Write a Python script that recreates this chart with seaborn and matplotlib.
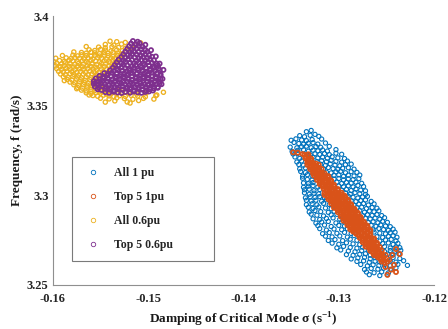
import matplotlib
matplotlib.use("Agg")
import matplotlib.pyplot as plt
from matplotlib.lines import Line2D
import pandas as pd
import seaborn as sns

# ---------------------------------------------------------------------------
# Critical-mode eigenvalue samples: (damping sigma [1/s], frequency f [rad/s])
# ---------------------------------------------------------------------------
series_names = ["All 1 pu", "Top 5 1pu", "All 0.6pu", "Top 5 0.6pu"]
series_colors = ["#0072BD", "#D95319", "#EDB120", "#7E2F8E"]

all_1pu = [
    (-.1334, 3.3355), (-.1325, 3.3340), (-.1329, 3.3362),
    (-.1341, 3.3333), (-.1336, 3.3327), (-.1330, 3.3335), (-.1321, 3.3329),
    (-.1350, 3.3307), (-.1345, 3.3315), (-.1339, 3.3309), (-.1334, 3.3305), (-.1328, 3.3311), (-.1318, 3.3314),
    (-.1347, 3.3295), (-.1342, 3.3289), (-.1337, 3.3285), (-.1332, 3.3291), (-.1327, 3.3294), (-.1322, 3.3286), (-.1314, 3.3292),
    (-.1351, 3.3269), (-.1344, 3.3265), (-.1339, 3.3271), (-.1334, 3.3274), (-.1329, 3.3266), (-.1324, 3.3272), (-.1319, 3.3268), (-.1310, 3.3273),
    (-.1349, 3.3245), (-.1343, 3.3251), (-.1337, 3.3254), (-.1332, 3.3246), (-.1327, 3.3252), (-.1322, 3.3248), (-.1317, 3.3253), (-.1312, 3.3247), (-.1303, 3.3255),
    (-.1348, 3.3231), (-.1343, 3.3234), (-.1330, 3.3226), (-.1325, 3.3232), (-.1320, 3.3228), (-.1315, 3.3233), (-.1310, 3.3227), (-.1303, 3.3235), (-.1297, 3.3229),
    (-.1346, 3.3214), (-.1341, 3.3206), (-.1327, 3.3212), (-.1322, 3.3208), (-.1317, 3.3213), (-.1312, 3.3207), (-.1307, 3.3215), (-.1301, 3.3209), (-.1294, 3.3205),
    (-.1344, 3.3186), (-.1339, 3.3192), (-.1323, 3.3188), (-.1318, 3.3193), (-.1313, 3.3187), (-.1308, 3.3195), (-.1303, 3.3189), (-.1297, 3.3185), (-.1291, 3.3191),
    (-.1342, 3.3172), (-.1337, 3.3168), (-.1319, 3.3173), (-.1314, 3.3167), (-.1309, 3.3175), (-.1304, 3.3169), (-.1299, 3.3165), (-.1293, 3.3171), (-.1287, 3.3174),
    (-.1341, 3.3148), (-.1335, 3.3153), (-.1316, 3.3147), (-.1311, 3.3155), (-.1306, 3.3149), (-.1301, 3.3145), (-.1296, 3.3151), (-.1290, 3.3154), (-.1284, 3.3146),
    (-.1340, 3.3133), (-.1335, 3.3127), (-.1330, 3.3135), (-.1313, 3.3129), (-.1308, 3.3125), (-.1303, 3.3131), (-.1298, 3.3134), (-.1293, 3.3126), (-.1287, 3.3132), (-.1281, 3.3128),
    (-.1338, 3.3107), (-.1333, 3.3115), (-.1328, 3.3109), (-.1310, 3.3105), (-.1305, 3.3111), (-.1300, 3.3114), (-.1295, 3.3106), (-.1290, 3.3112), (-.1284, 3.3108), (-.1278, 3.3113),
    (-.1338, 3.3095), (-.1333, 3.3089), (-.1328, 3.3085), (-.1305, 3.3091), (-.1300, 3.3094), (-.1295, 3.3086), (-.1290, 3.3092), (-.1285, 3.3088), (-.1279, 3.3093),
    (-.1337, 3.3069), (-.1332, 3.3065), (-.1327, 3.3071), (-.1302, 3.3074), (-.1297, 3.3066), (-.1292, 3.3072), (-.1287, 3.3068), (-.1282, 3.3073), (-.1276, 3.3067),
    (-.1337, 3.3045), (-.1332, 3.3051), (-.1327, 3.3054), (-.1322, 3.3046), (-.1300, 3.3052), (-.1295, 3.3048), (-.1290, 3.3053), (-.1285, 3.3047), (-.1280, 3.3055), (-.1274, 3.3049),
    (-.1336, 3.3031), (-.1331, 3.3034), (-.1326, 3.3026), (-.1320, 3.3032), (-.1297, 3.3028), (-.1292, 3.3033), (-.1287, 3.3027), (-.1282, 3.3035), (-.1277, 3.3029), (-.1272, 3.3025),
    (-.1336, 3.3014), (-.1331, 3.3006), (-.1326, 3.3012), (-.1321, 3.3008), (-.1293, 3.3013), (-.1288, 3.3007), (-.1283, 3.3015), (-.1278, 3.3009), (-.1272, 3.3005),
    (-.1335, 3.2986), (-.1330, 3.2992), (-.1325, 3.2988), (-.1320, 3.2993), (-.1315, 3.2987), (-.1290, 3.2995), (-.1285, 3.2989), (-.1280, 3.2985), (-.1275, 3.2991), (-.1270, 3.2994),
    (-.1334, 3.2972), (-.1329, 3.2968), (-.1324, 3.2973), (-.1318, 3.2967), (-.1313, 3.2975), (-.1287, 3.2969), (-.1282, 3.2965), (-.1277, 3.2971), (-.1272, 3.2974), (-.1266, 3.2966),
    (-.1334, 3.2948), (-.1328, 3.2953), (-.1323, 3.2947), (-.1316, 3.2955), (-.1310, 3.2949), (-.1284, 3.2945), (-.1279, 3.2951), (-.1274, 3.2954), (-.1269, 3.2946), (-.1263, 3.2952),
    (-.1332, 3.2933), (-.1327, 3.2927), (-.1321, 3.2935), (-.1314, 3.2929), (-.1308, 3.2925), (-.1281, 3.2931), (-.1276, 3.2934), (-.1271, 3.2926), (-.1265, 3.2932), (-.1260, 3.2928),
    (-.1331, 3.2907), (-.1325, 3.2915), (-.1319, 3.2909), (-.1311, 3.2905), (-.1305, 3.2911), (-.1278, 3.2914), (-.1273, 3.2906), (-.1268, 3.2912), (-.1263, 3.2908), (-.1258, 3.2913),
    (-.1329, 3.2895), (-.1323, 3.2889), (-.1316, 3.2885), (-.1308, 3.2891), (-.1302, 3.2894), (-.1275, 3.2886), (-.1270, 3.2892), (-.1265, 3.2888), (-.1260, 3.2893), (-.1255, 3.2887),
    (-.1327, 3.2869), (-.1320, 3.2865), (-.1313, 3.2871), (-.1306, 3.2874), (-.1299, 3.2866), (-.1272, 3.2872), (-.1267, 3.2868), (-.1262, 3.2873), (-.1257, 3.2867), (-.1252, 3.2875),
    (-.1324, 3.2845), (-.1318, 3.2851), (-.1311, 3.2854), (-.1303, 3.2846), (-.1297, 3.2852), (-.1269, 3.2848), (-.1264, 3.2853), (-.1259, 3.2847), (-.1254, 3.2855), (-.1249, 3.2849),
    (-.1322, 3.2831), (-.1315, 3.2834), (-.1308, 3.2826), (-.1300, 3.2832), (-.1294, 3.2828), (-.1266, 3.2833), (-.1261, 3.2827), (-.1256, 3.2835), (-.1251, 3.2829), (-.1246, 3.2825),
    (-.1320, 3.2814), (-.1313, 3.2806), (-.1305, 3.2812), (-.1297, 3.2808), (-.1291, 3.2813), (-.1264, 3.2807), (-.1258, 3.2815), (-.1253, 3.2809), (-.1248, 3.2805), (-.1243, 3.2811),
    (-.1317, 3.2786), (-.1310, 3.2792), (-.1302, 3.2788), (-.1294, 3.2793), (-.1287, 3.2787), (-.1263, 3.2795), (-.1257, 3.2789), (-.1251, 3.2785), (-.1246, 3.2791), (-.1241, 3.2794),
    (-.1314, 3.2772), (-.1307, 3.2768), (-.1299, 3.2773), (-.1291, 3.2767), (-.1284, 3.2775), (-.1260, 3.2769), (-.1254, 3.2765), (-.1248, 3.2771), (-.1243, 3.2774), (-.1239, 3.2766),
    (-.1311, 3.2748), (-.1304, 3.2753), (-.1296, 3.2747), (-.1288, 3.2755), (-.1281, 3.2749), (-.1257, 3.2745), (-.1251, 3.2751), (-.1245, 3.2754), (-.1240, 3.2746),
    (-.1307, 3.2733), (-.1300, 3.2727), (-.1292, 3.2735), (-.1285, 3.2729), (-.1278, 3.2725), (-.1254, 3.2731), (-.1248, 3.2734), (-.1243, 3.2726), (-.1238, 3.2732),
    (-.1302, 3.2707), (-.1295, 3.2715), (-.1288, 3.2709), (-.1281, 3.2705), (-.1275, 3.2711), (-.1252, 3.2714), (-.1246, 3.2706), (-.1240, 3.2712), (-.1236, 3.2708),
    (-.1298, 3.2695), (-.1290, 3.2689), (-.1283, 3.2685), (-.1276, 3.2691), (-.1269, 3.2694), (-.1252, 3.2686), (-.1246, 3.2692), (-.1241, 3.2688), (-.1235, 3.2693),
    (-.1292, 3.2669), (-.1285, 3.2665), (-.1278, 3.2671), (-.1272, 3.2674), (-.1267, 3.2666), (-.1249, 3.2672), (-.1243, 3.2668), (-.1237, 3.2673),
    (-.1287, 3.2645), (-.1280, 3.2651), (-.1273, 3.2654), (-.1267, 3.2646), (-.1262, 3.2652), (-.1249, 3.2648), (-.1243, 3.2653), (-.1236, 3.2647),
    (-.1281, 3.2631), (-.1274, 3.2634), (-.1268, 3.2626), (-.1262, 3.2632), (-.1257, 3.2628), (-.1246, 3.2633), (-.1240, 3.2627), (-.1232, 3.2635),
    (-.1277, 3.2614), (-.1270, 3.2606), (-.1264, 3.2612), (-.1258, 3.2608), (-.1252, 3.2613), (-.1246, 3.2607), (-.1238, 3.2615), (-.1228, 3.2609),
    (-.1273, 3.2586), (-.1266, 3.2592), (-.1259, 3.2588), (-.1253, 3.2593), (-.1246, 3.2587), (-.1240, 3.2595),
    (-.1271, 3.2572), (-.1263, 3.2568), (-.1255, 3.2573), (-.1248, 3.2567),
    (-.1268, 3.2557), (-.1257, 3.2552), (-.1249, 3.2558),
]

top5_1pu = [
    (-.1348, 3.3240), (-.1343, 3.3238),
    (-.1338, 3.3230), (-.1336, 3.3226), (-.1332, 3.3229),
    (-.1335, 3.3214), (-.1332, 3.3218),
    (-.1335, 3.3206), (-.1332, 3.3201), (-.1329, 3.3205),
    (-.1332, 3.3190), (-.1329, 3.3194),
    (-.1333, 3.3182), (-.1330, 3.3178), (-.1327, 3.3181), (-.1324, 3.3177),
    (-.1333, 3.3170), (-.1330, 3.3166), (-.1327, 3.3169), (-.1324, 3.3165), (-.1321, 3.3171),
    (-.1330, 3.3158), (-.1327, 3.3153), (-.1324, 3.3157), (-.1321, 3.3154),
    (-.1330, 3.3146), (-.1327, 3.3142), (-.1324, 3.3145), (-.1321, 3.3141), (-.1318, 3.3147),
    (-.1327, 3.3134), (-.1324, 3.3130), (-.1321, 3.3133), (-.1318, 3.3129),
    (-.1327, 3.3122), (-.1324, 3.3118), (-.1321, 3.3121), (-.1318, 3.3117), (-.1315, 3.3123),
    (-.1326, 3.3110), (-.1323, 3.3106), (-.1320, 3.3109), (-.1317, 3.3105), (-.1314, 3.3111), (-.1311, 3.3107),
    (-.1323, 3.3098), (-.1320, 3.3094), (-.1317, 3.3097), (-.1314, 3.3093), (-.1311, 3.3099),
    (-.1323, 3.3086), (-.1320, 3.3082), (-.1317, 3.3085), (-.1314, 3.3081), (-.1311, 3.3087), (-.1308, 3.3083),
    (-.1320, 3.3074), (-.1317, 3.3070), (-.1314, 3.3073), (-.1311, 3.3069), (-.1308, 3.3075),
    (-.1320, 3.3062), (-.1317, 3.3058), (-.1314, 3.3061), (-.1311, 3.3057), (-.1308, 3.3063), (-.1305, 3.3059),
    (-.1317, 3.3050), (-.1314, 3.3046), (-.1311, 3.3049), (-.1308, 3.3045), (-.1305, 3.3051),
    (-.1316, 3.3038), (-.1313, 3.3034), (-.1310, 3.3037), (-.1307, 3.3033), (-.1304, 3.3039), (-.1301, 3.3035),
    (-.1313, 3.3026), (-.1310, 3.3022), (-.1307, 3.3025), (-.1304, 3.3021), (-.1301, 3.3027),
    (-.1315, 3.3014), (-.1312, 3.3010), (-.1309, 3.3013), (-.1306, 3.3009), (-.1303, 3.3015), (-.1300, 3.3011), (-.1297, 3.3014),
    (-.1315, 3.3002), (-.1312, 3.2998), (-.1309, 3.3001), (-.1306, 3.2997), (-.1303, 3.3003), (-.1300, 3.2999), (-.1297, 3.3002), (-.1294, 3.2998),
    (-.1311, 3.2990), (-.1308, 3.2986), (-.1305, 3.2989), (-.1302, 3.2985), (-.1299, 3.2991), (-.1296, 3.2987), (-.1293, 3.2990),
    (-.1311, 3.2978), (-.1308, 3.2974), (-.1305, 3.2977), (-.1302, 3.2973), (-.1299, 3.2979), (-.1296, 3.2975), (-.1293, 3.2978), (-.1290, 3.2974),
    (-.1308, 3.2966), (-.1305, 3.2962), (-.1302, 3.2965), (-.1299, 3.2961), (-.1296, 3.2967), (-.1293, 3.2963), (-.1290, 3.2966),
    (-.1308, 3.2954), (-.1305, 3.2950), (-.1302, 3.2953), (-.1299, 3.2949), (-.1296, 3.2955), (-.1293, 3.2951), (-.1290, 3.2954), (-.1287, 3.2950),
    (-.1305, 3.2942), (-.1302, 3.2938), (-.1299, 3.2941), (-.1296, 3.2937), (-.1293, 3.2943), (-.1290, 3.2939), (-.1287, 3.2942),
    (-.1305, 3.2930), (-.1302, 3.2926), (-.1299, 3.2929), (-.1296, 3.2925), (-.1293, 3.2931), (-.1290, 3.2927), (-.1287, 3.2930), (-.1284, 3.2926),
    (-.1301, 3.2918), (-.1298, 3.2914), (-.1295, 3.2917), (-.1292, 3.2913), (-.1289, 3.2919), (-.1286, 3.2915), (-.1283, 3.2918),
    (-.1301, 3.2906), (-.1298, 3.2902), (-.1295, 3.2905), (-.1292, 3.2901), (-.1289, 3.2907), (-.1286, 3.2903), (-.1283, 3.2906), (-.1280, 3.2902),
    (-.1298, 3.2894), (-.1295, 3.2890), (-.1292, 3.2893), (-.1289, 3.2889), (-.1286, 3.2895), (-.1283, 3.2891), (-.1280, 3.2894),
    (-.1298, 3.2882), (-.1295, 3.2878), (-.1292, 3.2881), (-.1289, 3.2877), (-.1286, 3.2883), (-.1283, 3.2879), (-.1280, 3.2882), (-.1277, 3.2878),
    (-.1295, 3.2870), (-.1292, 3.2866), (-.1289, 3.2869), (-.1286, 3.2865), (-.1283, 3.2871), (-.1280, 3.2867), (-.1277, 3.2870),
    (-.1295, 3.2858), (-.1292, 3.2854), (-.1289, 3.2857), (-.1286, 3.2853), (-.1283, 3.2859), (-.1280, 3.2855), (-.1277, 3.2858), (-.1274, 3.2854),
    (-.1291, 3.2846), (-.1288, 3.2842), (-.1285, 3.2845), (-.1282, 3.2841), (-.1279, 3.2847), (-.1276, 3.2843), (-.1273, 3.2846),
    (-.1291, 3.2834), (-.1288, 3.2830), (-.1285, 3.2833), (-.1282, 3.2829), (-.1279, 3.2835), (-.1276, 3.2831), (-.1273, 3.2834), (-.1270, 3.2830),
    (-.1288, 3.2822), (-.1285, 3.2818), (-.1282, 3.2821), (-.1279, 3.2817), (-.1276, 3.2823), (-.1273, 3.2819), (-.1270, 3.2822),
    (-.1288, 3.2810), (-.1285, 3.2806), (-.1282, 3.2809), (-.1279, 3.2805), (-.1276, 3.2811), (-.1273, 3.2807), (-.1270, 3.2810), (-.1267, 3.2806),
    (-.1285, 3.2798), (-.1282, 3.2794), (-.1279, 3.2797), (-.1276, 3.2793), (-.1273, 3.2799), (-.1270, 3.2795), (-.1267, 3.2798),
    (-.1282, 3.2786), (-.1279, 3.2782), (-.1276, 3.2785), (-.1273, 3.2781), (-.1270, 3.2787), (-.1267, 3.2783),
    (-.1279, 3.2774), (-.1276, 3.2770), (-.1273, 3.2773), (-.1270, 3.2769), (-.1267, 3.2775),
    (-.1278, 3.2762), (-.1275, 3.2758), (-.1272, 3.2761), (-.1269, 3.2757), (-.1266, 3.2763), (-.1263, 3.2759),
    (-.1275, 3.2750), (-.1272, 3.2746), (-.1269, 3.2749), (-.1266, 3.2745), (-.1263, 3.2751),
    (-.1275, 3.2738), (-.1272, 3.2734), (-.1269, 3.2737), (-.1266, 3.2733), (-.1263, 3.2739), (-.1260, 3.2735),
    (-.1272, 3.2726), (-.1269, 3.2722), (-.1266, 3.2725), (-.1263, 3.2721), (-.1260, 3.2727),
    (-.1272, 3.2714), (-.1269, 3.2710), (-.1266, 3.2713), (-.1263, 3.2709), (-.1260, 3.2715), (-.1257, 3.2711),
    (-.1267, 3.2702), (-.1264, 3.2698), (-.1261, 3.2701), (-.1258, 3.2697),
    (-.1267, 3.2690), (-.1264, 3.2686), (-.1261, 3.2689), (-.1258, 3.2685), (-.1255, 3.2691),
    (-.1264, 3.2678), (-.1261, 3.2674), (-.1258, 3.2677), (-.1255, 3.2673),
    (-.1263, 3.2666), (-.1260, 3.2662), (-.1257, 3.2665), (-.1254, 3.2661), (-.1251, 3.2667),
    (-.1259, 3.2654), (-.1256, 3.2650), (-.1253, 3.2653),
    (-.1256, 3.2642), (-.1253, 3.2638),
    (-.1255, 3.2630), (-.1252, 3.2626), (-.1249, 3.2629),
    (-.1240, 3.2700), (-.1236, 3.2672), (-.1244, 3.2667), (-.1242, 3.2612), (-.1249, 3.2556),
    (-.1240, 3.2572), (-.1247, 3.2640), (-.1251, 3.2600), (-.1245, 3.2585),
]

all_06pu = [
    (-.1535, 3.3527), (-.1522, 3.3521), (-.1510, 3.3529),
    (-.1550, 3.3542), (-.1541, 3.3538), (-.1533, 3.3544), (-.1525, 3.3540), (-.1516, 3.3536), (-.1505, 3.3541), (-.1494, 3.3537),
    (-.1558, 3.3557), (-.1553, 3.3553), (-.1547, 3.3559), (-.1541, 3.3555), (-.1536, 3.3551), (-.1530, 3.3556),
    (-.1524, 3.3552), (-.1518, 3.3558), (-.1511, 3.3554), (-.1503, 3.3550), (-.1492, 3.3556),
    (-.1565, 3.3572), (-.1560, 3.3568), (-.1555, 3.3574), (-.1550, 3.3570), (-.1544, 3.3566), (-.1539, 3.3571),
    (-.1533, 3.3567), (-.1527, 3.3573), (-.1520, 3.3569), (-.1512, 3.3565), (-.1502, 3.3571),
    (-.1570, 3.3587), (-.1565, 3.3583), (-.1560, 3.3589), (-.1556, 3.3585), (-.1550, 3.3581), (-.1545, 3.3586), (-.1540, 3.3582), (-.1530, 3.3588),
    (-.1574, 3.3602), (-.1569, 3.3598), (-.1564, 3.3604), (-.1560, 3.3600), (-.1555, 3.3596), (-.1550, 3.3601), (-.1545, 3.3597),
    (-.1578, 3.3617), (-.1573, 3.3613), (-.1568, 3.3619), (-.1564, 3.3615), (-.1559, 3.3611), (-.1554, 3.3616), (-.1549, 3.3612),
    (-.1582, 3.3632), (-.1577, 3.3628), (-.1572, 3.3634), (-.1567, 3.3630), (-.1563, 3.3626), (-.1558, 3.3631), (-.1553, 3.3627),
    (-.1585, 3.3647), (-.1580, 3.3643), (-.1575, 3.3649), (-.1571, 3.3645), (-.1566, 3.3641), (-.1561, 3.3646), (-.1557, 3.3642), (-.1552, 3.3648),
    (-.1589, 3.3662), (-.1584, 3.3658), (-.1579, 3.3664), (-.1574, 3.3660), (-.1570, 3.3656), (-.1565, 3.3661),
    (-.1560, 3.3657), (-.1556, 3.3663), (-.1551, 3.3659), (-.1546, 3.3655),
    (-.1592, 3.3677), (-.1587, 3.3673), (-.1582, 3.3679), (-.1578, 3.3675), (-.1573, 3.3671), (-.1568, 3.3676),
    (-.1563, 3.3672), (-.1559, 3.3678), (-.1554, 3.3674), (-.1549, 3.3670), (-.1544, 3.3676),
    (-.1594, 3.3692), (-.1589, 3.3688), (-.1585, 3.3694), (-.1580, 3.3690), (-.1575, 3.3686), (-.1571, 3.3691),
    (-.1566, 3.3687), (-.1561, 3.3693), (-.1557, 3.3689), (-.1552, 3.3685), (-.1547, 3.3691), (-.1542, 3.3688),
    (-.1596, 3.3707), (-.1591, 3.3703), (-.1586, 3.3709), (-.1582, 3.3705), (-.1577, 3.3701), (-.1572, 3.3706), (-.1568, 3.3702),
    (-.1563, 3.3708), (-.1558, 3.3704), (-.1554, 3.3700), (-.1549, 3.3706), (-.1544, 3.3703), (-.1539, 3.3709),
    (-.1597, 3.3722), (-.1592, 3.3718), (-.1588, 3.3724), (-.1583, 3.3720), (-.1578, 3.3716), (-.1574, 3.3721), (-.1569, 3.3717),
    (-.1564, 3.3723), (-.1560, 3.3719), (-.1555, 3.3715), (-.1550, 3.3721), (-.1546, 3.3718), (-.1541, 3.3724), (-.1536, 3.3720),
    (-.1596, 3.3737), (-.1591, 3.3733), (-.1587, 3.3739), (-.1582, 3.3735), (-.1577, 3.3731), (-.1573, 3.3736), (-.1568, 3.3732),
    (-.1563, 3.3738), (-.1559, 3.3734), (-.1554, 3.3730), (-.1549, 3.3736), (-.1545, 3.3733), (-.1540, 3.3739), (-.1535, 3.3735),
    (-.1593, 3.3752), (-.1588, 3.3748), (-.1583, 3.3754), (-.1579, 3.3750), (-.1574, 3.3746), (-.1569, 3.3751), (-.1565, 3.3747),
    (-.1560, 3.3753), (-.1555, 3.3749), (-.1551, 3.3745), (-.1546, 3.3751), (-.1541, 3.3748), (-.1537, 3.3754), (-.1532, 3.3750),
    (-.1586, 3.3767), (-.1581, 3.3763), (-.1577, 3.3769), (-.1572, 3.3765), (-.1567, 3.3761), (-.1563, 3.3766), (-.1558, 3.3762),
    (-.1553, 3.3768), (-.1549, 3.3764), (-.1544, 3.3760), (-.1539, 3.3766), (-.1535, 3.3763), (-.1530, 3.3769),
    (-.1579, 3.3782), (-.1574, 3.3778), (-.1570, 3.3784), (-.1565, 3.3780), (-.1560, 3.3776), (-.1556, 3.3781),
    (-.1551, 3.3777), (-.1546, 3.3783), (-.1542, 3.3779), (-.1537, 3.3775), (-.1532, 3.3781), (-.1527, 3.3778),
    (-.1570, 3.3797), (-.1565, 3.3793), (-.1560, 3.3799), (-.1556, 3.3795), (-.1551, 3.3791), (-.1546, 3.3796),
    (-.1542, 3.3792), (-.1537, 3.3798), (-.1532, 3.3794), (-.1527, 3.3790),
    (-.1562, 3.3812), (-.1556, 3.3808), (-.1550, 3.3814), (-.1545, 3.3810), (-.1539, 3.3806), (-.1533, 3.3811), (-.1527, 3.3807), (-.1521, 3.3813),
    (-.1552, 3.3827), (-.1545, 3.3823), (-.1538, 3.3829), (-.1531, 3.3825), (-.1524, 3.3821), (-.1517, 3.3826),
    (-.1545, 3.3842), (-.1536, 3.3838), (-.1528, 3.3844), (-.1514, 3.3840),
    (-.1533, 3.3857), (-.1524, 3.3853), (-.1508, 3.3851),
    (-.1599, 3.3745), (-.1597, 3.3765), (-.1590, 3.3780), (-.1578, 3.3800), (-.1565, 3.3830), (-.1540, 3.3860),
    (-.1588, 3.3640), (-.1575, 3.3595), (-.1562, 3.3560), (-.1545, 3.3520), (-.1519, 3.3515), (-.1491, 3.3560), (-.1484, 3.3575),
]

top5_06pu = [
    (-.1545, 3.3576), (-.1541, 3.3572), (-.1536, 3.3578), (-.1532, 3.3574), (-.1528, 3.3571), (-.1524, 3.3577),
    (-.1519, 3.3573), (-.1515, 3.3579), (-.1511, 3.3575), (-.1507, 3.3572), (-.1503, 3.3577), (-.1499, 3.3580),
    (-.1553, 3.3592), (-.1549, 3.3588), (-.1545, 3.3594), (-.1540, 3.3590), (-.1536, 3.3586), (-.1532, 3.3593),
    (-.1527, 3.3589), (-.1523, 3.3595), (-.1519, 3.3591), (-.1515, 3.3587), (-.1510, 3.3593), (-.1506, 3.3590),
    (-.1502, 3.3586), (-.1498, 3.3592), (-.1494, 3.3596),
    (-.1556, 3.3607), (-.1552, 3.3603), (-.1548, 3.3609), (-.1544, 3.3605), (-.1539, 3.3601), (-.1535, 3.3606),
    (-.1531, 3.3602), (-.1527, 3.3608), (-.1522, 3.3604), (-.1518, 3.3600), (-.1514, 3.3606), (-.1510, 3.3603),
    (-.1506, 3.3609), (-.1502, 3.3605), (-.1498, 3.3601), (-.1494, 3.3607), (-.1490, 3.3604),
    (-.1557, 3.3622), (-.1553, 3.3618), (-.1549, 3.3624), (-.1545, 3.3620), (-.1541, 3.3616), (-.1537, 3.3621),
    (-.1533, 3.3617), (-.1528, 3.3623), (-.1524, 3.3619), (-.1520, 3.3615), (-.1516, 3.3621), (-.1512, 3.3618),
    (-.1508, 3.3624), (-.1504, 3.3620), (-.1500, 3.3616), (-.1496, 3.3622), (-.1492, 3.3619), (-.1488, 3.3623),
    (-.1557, 3.3637), (-.1552, 3.3633), (-.1548, 3.3639), (-.1543, 3.3635), (-.1539, 3.3631), (-.1535, 3.3636),
    (-.1530, 3.3632), (-.1526, 3.3638), (-.1522, 3.3634), (-.1518, 3.3630), (-.1513, 3.3636), (-.1509, 3.3633),
    (-.1505, 3.3639), (-.1501, 3.3635), (-.1497, 3.3631), (-.1493, 3.3637), (-.1488, 3.3634),
    (-.1555, 3.3652), (-.1551, 3.3648), (-.1547, 3.3654), (-.1542, 3.3650), (-.1538, 3.3646), (-.1534, 3.3651),
    (-.1530, 3.3647), (-.1525, 3.3653), (-.1521, 3.3649), (-.1517, 3.3645), (-.1513, 3.3651), (-.1509, 3.3648),
    (-.1505, 3.3654), (-.1500, 3.3650), (-.1496, 3.3646), (-.1492, 3.3652), (-.1487, 3.3649),
    (-.1551, 3.3667), (-.1547, 3.3663), (-.1543, 3.3669), (-.1539, 3.3665), (-.1534, 3.3661), (-.1530, 3.3666),
    (-.1526, 3.3662), (-.1522, 3.3668), (-.1517, 3.3664), (-.1513, 3.3660), (-.1509, 3.3666), (-.1505, 3.3663),
    (-.1500, 3.3669), (-.1496, 3.3665), (-.1492, 3.3661), (-.1487, 3.3667),
    (-.1546, 3.3682), (-.1542, 3.3678), (-.1538, 3.3684), (-.1533, 3.3680), (-.1529, 3.3676), (-.1525, 3.3681),
    (-.1521, 3.3677), (-.1517, 3.3683), (-.1512, 3.3679), (-.1508, 3.3675), (-.1504, 3.3681), (-.1500, 3.3678),
    (-.1496, 3.3684), (-.1491, 3.3680), (-.1487, 3.3676),
    (-.1540, 3.3697), (-.1536, 3.3693), (-.1532, 3.3699), (-.1527, 3.3695), (-.1523, 3.3691), (-.1519, 3.3696),
    (-.1515, 3.3692), (-.1510, 3.3698), (-.1506, 3.3694), (-.1502, 3.3690), (-.1498, 3.3696), (-.1493, 3.3693),
    (-.1488, 3.3699),
    (-.1537, 3.3712), (-.1533, 3.3708), (-.1528, 3.3714), (-.1524, 3.3710), (-.1520, 3.3706), (-.1515, 3.3711),
    (-.1511, 3.3707), (-.1507, 3.3713), (-.1502, 3.3709), (-.1498, 3.3705), (-.1494, 3.3711), (-.1489, 3.3708),
    (-.1535, 3.3727), (-.1531, 3.3723), (-.1526, 3.3729), (-.1522, 3.3725), (-.1517, 3.3721), (-.1513, 3.3726),
    (-.1508, 3.3722), (-.1504, 3.3728), (-.1499, 3.3724), (-.1495, 3.3720), (-.1490, 3.3726),
    (-.1533, 3.3742), (-.1528, 3.3738), (-.1524, 3.3744), (-.1519, 3.3740), (-.1515, 3.3736), (-.1510, 3.3741),
    (-.1505, 3.3737), (-.1500, 3.3743), (-.1496, 3.3739), (-.1491, 3.3735),
    (-.1531, 3.3757), (-.1526, 3.3753), (-.1521, 3.3759), (-.1517, 3.3755), (-.1512, 3.3751), (-.1507, 3.3756),
    (-.1503, 3.3752), (-.1498, 3.3758), (-.1494, 3.3754),
    (-.1528, 3.3772), (-.1524, 3.3768), (-.1519, 3.3774), (-.1514, 3.3770), (-.1510, 3.3766), (-.1505, 3.3771),
    (-.1501, 3.3767), (-.1496, 3.3773),
    (-.1526, 3.3787), (-.1521, 3.3783), (-.1517, 3.3789), (-.1512, 3.3785), (-.1508, 3.3781), (-.1503, 3.3786),
    (-.1499, 3.3782),
    (-.1524, 3.3802), (-.1519, 3.3798), (-.1515, 3.3804), (-.1510, 3.3800), (-.1506, 3.3796), (-.1501, 3.3801),
    (-.1522, 3.3817), (-.1517, 3.3813), (-.1512, 3.3819), (-.1507, 3.3815), (-.1503, 3.3811),
    (-.1520, 3.3832), (-.1515, 3.3828), (-.1510, 3.3834), (-.1506, 3.3830),
    (-.1518, 3.3847), (-.1513, 3.3843), (-.1509, 3.3849),
    (-.1516, 3.3861), (-.1511, 3.3857),
    (-.1484, 3.3700), (-.1485, 3.3650), (-.1486, 3.3620), (-.1488, 3.3735), (-.1492, 3.3775),
    (-.1497, 3.3810), (-.1503, 3.3840), (-.1490, 3.3600), (-.1495, 3.3585),
]

x_ticks = [-0.16, -0.15, -0.14, -0.13, -0.12]
x_tick_labels = ["-0.16", "-0.15", "-0.14", "-0.13", "-0.12"]
y_ticks = [3.25, 3.30, 3.35, 3.40]
y_tick_labels = ["3.25", "3.3", "3.35", "3.4"]

# ---------------------------------------------------------------------------
# Long-form table, drawn in series order so later groups sit on top
# ---------------------------------------------------------------------------
frames = []
for name, pts in zip(series_names, [all_1pu, top5_1pu, all_06pu, top5_06pu]):
    frames.append(pd.DataFrame({"sigma": [p[0] for p in pts],
                                "freq": [p[1] for p in pts],
                                "series": name}))
df = pd.concat(frames, ignore_index=True)

sns.set_style("white")
plt.rcParams["font.family"] = ["Liberation Serif", "DejaVu Serif"]
plt.rcParams["font.weight"] = "bold"
plt.rcParams["mathtext.fontset"] = "custom"
plt.rcParams["mathtext.rm"] = "Liberation Serif"
plt.rcParams["mathtext.bf"] = "Liberation Serif:bold"

fig = plt.figure(figsize=(4.48, 3.29), dpi=100)
ax = fig.add_axes([0.118, 0.134, 0.851, 0.817])

palette = dict(zip(series_names, series_colors))
sns.scatterplot(data=df, x="sigma", y="freq", hue="series", hue_order=series_names,
                palette=palette, s=9, marker="o", legend=False, ax=ax)

# hollow circle markers; the tightly packed "Top 5" groups get a heavier ring
ring_width = {"All 1 pu": 0.8, "Top 5 1pu": 1.25, "All 0.6pu": 0.95, "Top 5 0.6pu": 1.25}
pts_coll = ax.collections[0]
pts_coll.set_edgecolors(pts_coll.get_facecolors())
pts_coll.set_facecolors("none")
pts_coll.set_linewidths(df["series"].map(ring_width).to_numpy())

ax.set_xlim(-0.16, -0.12)
ax.set_ylim(3.25, 3.40)
ax.set_xticks(x_ticks)
ax.set_xticklabels(x_tick_labels)
ax.set_yticks(y_ticks)
ax.set_yticklabels(y_tick_labels)

axis_gray = "#8f8f8f"
for side in ("top", "right"):
    ax.spines[side].set_visible(False)
for side in ("left", "bottom"):
    ax.spines[side].set_color(axis_gray)
    ax.spines[side].set_linewidth(0.8)
ax.tick_params(direction="in", length=3, width=0.8, color=axis_gray,
               labelsize=9, labelcolor="#262626")
ax.tick_params(axis="x", pad=5.5)
ax.tick_params(axis="y", pad=3)
for lab in ax.get_xticklabels() + ax.get_yticklabels():
    lab.set_fontweight("bold")

ax.set_xlabel(r"Damping of Critical Mode σ (s$^{\mathbf{-1}}$)",
              fontsize=9.5, fontweight="bold", color="#1a1a1a", labelpad=4.5)
ax.set_ylabel("Frequency, f (rad/s)", fontsize=9.5, fontweight="bold",
              color="#1a1a1a", labelpad=3)

handles = [Line2D([], [], linestyle="none", marker="o", markersize=3.2,
                  markerfacecolor="none", markeredgecolor=c, markeredgewidth=0.6,
                  label=n)
           for n, c in zip(series_names, series_colors)]
leg = ax.legend(handles=handles, loc="upper left",
                bbox_to_anchor=(0.05, 0.086, 0.373, 0.39), mode="expand",
                frameon=True, fancybox=False, edgecolor="#7a7a7a",
                prop={"family": "Liberation Serif", "weight": "bold", "size": 8.5},
                borderpad=0.85, labelspacing=1.02, handlelength=1.8,
                handletextpad=0.9, borderaxespad=0)
leg.get_frame().set_linewidth(0.8)
leg.get_frame().set_facecolor("white")
leg.get_frame().set_alpha(1)

fig.savefig("out.png", dpi=100)
